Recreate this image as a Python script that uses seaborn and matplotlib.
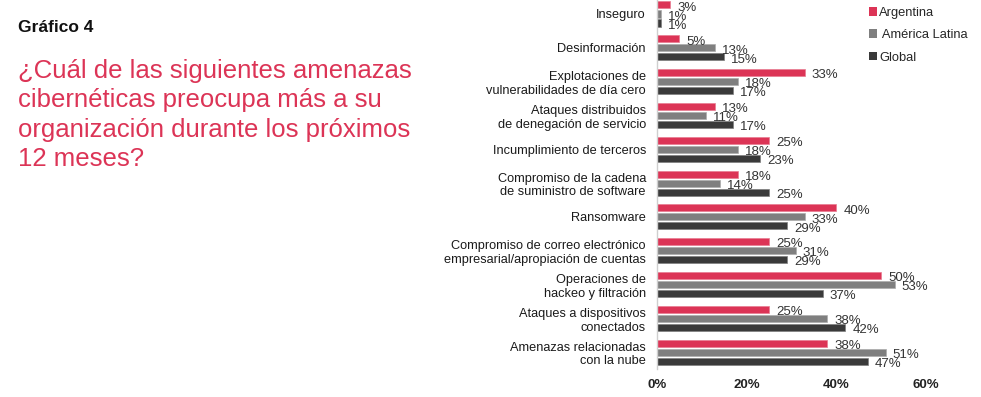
import pandas as pd
import matplotlib.pyplot as plt
import matplotlib.colors as mcolors
import seaborn as sns

# datos
amenazas = [
    "Inseguro",
    "Desinformación",
    "Explotaciones de\nvulnerabilidades de día cero",
    "Ataques distribuidos\nde denegación de servicio",
    "Incumplimiento de terceros",
    "Compromiso de la cadena\nde suministro de software",
    "Ransomware",
    "Compromiso de correo electrónico\nempresarial/apropiación de cuentas",
    "Operaciones de\nhackeo y filtración",
    "Ataques a dispositivos\nconectados",
    "Amenazas relacionadas\ncon la nube",
]
argentina = [3, 5, 33, 13, 25, 18, 40, 25, 50, 25, 38]
america_latina = [1, 13, 18, 11, 18, 14, 33, 31, 53, 38, 51]
global_ = [1, 15, 17, 17, 23, 25, 29, 29, 37, 42, 47]
series = ["Argentina", " América Latina", "Global"]
ticks = [0, 20, 40, 60]

colores = ["#DC3456", "#7F7F7F", "#3A3A3A"]

df = pd.DataFrame({
    "amenaza": amenazas * 3,
    "serie": [series[0]] * len(amenazas) + [series[1]] * len(amenazas) + [series[2]] * len(amenazas),
    "valor": argentina + america_latina + global_,
})

sns.set_style("white")
plt.rcParams["font.family"] = ["Liberation Sans", "DejaVu Sans"]

fig = plt.figure(figsize=(9.81, 3.97), dpi=100)
ax = fig.add_axes([657 / 981, 1 - 369 / 397, (926 - 657) / 981, 369 / 397])

sns.barplot(data=df, y="amenaza", x="valor", hue="serie", palette=colores,
            orient="h", width=0.8, gap=0.22, saturation=1, ax=ax)

# borde claro en las barras
for p in ax.patches:
    fc = mcolors.to_rgb(p.get_facecolor())
    ec = tuple(c + (1 - c) * 0.35 for c in fc)
    p.set_edgecolor(ec)
    p.set_linewidth(0.5)

# etiquetas de valor
for cont in ax.containers:
    anns = ax.bar_label(cont, fmt="%g%%", padding=4, fontsize=9.5, color="#333333")
    for a in anns:
        a.xyann = (5, -2)

ax.set_xlim(0, 60)
ax.set_ylim(10.5, -0.414)
ax.set_xticks(ticks)
ax.set_xticklabels([f"{t}%" for t in ticks], fontsize=9.5, fontweight="bold", color="#222222")
ax.tick_params(axis="x", length=0, pad=7)
ax.tick_params(axis="y", length=0, pad=8, labelsize=9.2, labelcolor="#1a1a1a")
ax.set_xlabel("")
ax.set_ylabel("")
for s in ["top", "right", "bottom"]:
    ax.spines[s].set_visible(False)
ax.spines["left"].set_color("#CFCFCF")
ax.spines["left"].set_linewidth(1)

leg = ax.legend(loc="upper left", bbox_to_anchor=(869 / 981, 1 - 7 / 397), bbox_transform=fig.transFigure,
                frameon=False, fontsize=9.3, handlelength=0.65, handleheight=0.65, handletextpad=0.15,
                labelspacing=0.8, borderaxespad=0, borderpad=0)
for h in leg.legend_handles:
    h.set_edgecolor("none")

fig.text(18 / 981, 1 - 28 / 397, "Gráfico 4", fontsize=12.5, fontweight="bold", color="#111111", va="center")
fig.text(18 / 981, 1 - 59 / 397,
         "¿Cuál de las siguientes amenazas\ncibernéticas preocupa más a su\norganización durante los próximos\n12 meses?",
         fontsize=18.5, color="#DC3456", va="top", linespacing=1.28)

fig.savefig("out.png", dpi=100)
